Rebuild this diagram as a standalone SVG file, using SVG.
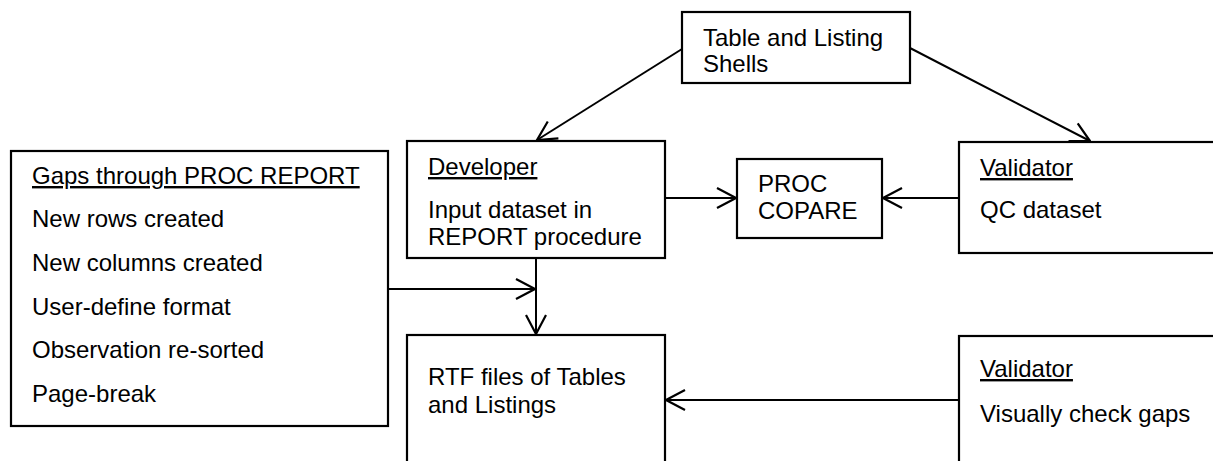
<svg xmlns="http://www.w3.org/2000/svg" width="1213" height="461" viewBox="0 0 1213 461">
  <style>
    .box { fill: #ffffff; stroke: #000000; stroke-width: 2.2; }
    .lbl { font-family: "Liberation Sans", Arial, sans-serif; font-size: 24px; fill: #000000; }
    .u { text-decoration: underline; }
    .edge { fill: none; stroke: #000000; stroke-width: 2; marker-end: url(#open); }
    .plain { fill: none; stroke: #000000; stroke-width: 2; }
  </style>
  <defs>
    <marker id="open" markerUnits="userSpaceOnUse" viewBox="0 0 21 23" refX="20" refY="11.5" markerWidth="21" markerHeight="23" orient="auto">
      <path d="M1,1.5 L20,11.5 L1,21.5" fill="none" stroke="#000000" stroke-width="2.2"/>
    </marker>
  </defs>
  <rect width="1213" height="461" fill="#ffffff"/>

  <!-- connectors -->
  <g id="connectors">
    <line class="edge" x1="682" y1="49" x2="537" y2="140"/>
    <line class="edge" x1="910" y1="48" x2="1090" y2="141"/>
    <line class="edge" x1="665" y1="198" x2="736" y2="198"/>
    <line class="edge" x1="959" y1="198" x2="883" y2="198"/>
    <line class="edge" x1="389" y1="289" x2="535" y2="289"/>
    <line class="edge" x1="536" y1="258" x2="536" y2="334"/>
    <line class="edge" x1="959" y1="400" x2="666" y2="400"/>
  </g>

  <!-- nodes -->
  <g id="shells">
    <rect class="box" x="682" y="12" width="228" height="71"/>
    <text class="lbl" x="703" y="46">Table and Listing</text>
    <text class="lbl" x="703" y="72">Shells</text>
  </g>

  <g id="gaps">
    <rect class="box" x="11" y="151" width="377" height="275"/>
    <text class="lbl u" x="32" y="184">Gaps through PROC REPORT</text>
    <text class="lbl" x="32" y="227">New rows created</text>
    <text class="lbl" x="32" y="271">New columns created</text>
    <text class="lbl" x="32" y="315">User-define format</text>
    <text class="lbl" x="32" y="358">Observation re-sorted</text>
    <text class="lbl" x="32" y="402">Page-break</text>
  </g>

  <g id="developer">
    <rect class="box" x="407" y="141" width="258" height="117"/>
    <text class="lbl u" x="428" y="175">Developer</text>
    <text class="lbl" x="428" y="218">Input dataset in</text>
    <text class="lbl" x="428" y="245">REPORT procedure</text>
  </g>

  <g id="proc-compare">
    <rect class="box" x="737" y="159" width="145" height="79"/>
    <text class="lbl" x="758" y="192">PROC</text>
    <text class="lbl" x="758" y="219">COPARE</text>
  </g>

  <g id="validator-qc">
    <rect class="box" x="959" y="142" width="270" height="111"/>
    <text class="lbl u" x="980" y="176">Validator</text>
    <text class="lbl" x="980" y="218">QC dataset</text>
  </g>

  <g id="rtf-output">
    <rect class="box" x="407" y="335" width="258" height="140"/>
    <text class="lbl" x="428" y="385">RTF files of Tables</text>
    <text class="lbl" x="428" y="413">and Listings</text>
  </g>

  <g id="validator-visual">
    <rect class="box" x="959" y="336" width="270" height="140"/>
    <text class="lbl u" x="980" y="377">Validator</text>
    <text class="lbl" x="980" y="422">Visually check gaps</text>
  </g>
</svg>
